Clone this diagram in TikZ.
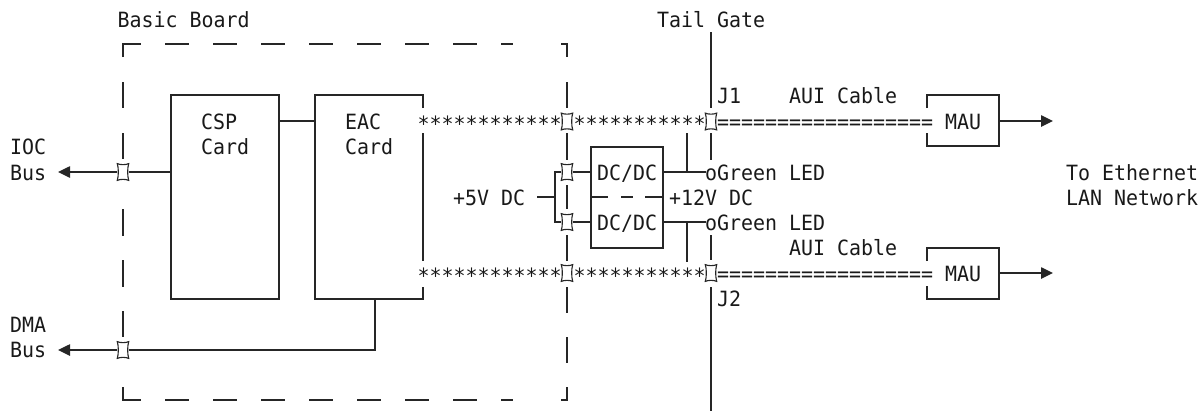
\documentclass[tikz,border=0pt]{standalone}
\usepackage{fontspec}
\setmonofont{DejaVu Sans Mono}[FakeStretch=0.95]
\usetikzlibrary{arrows.meta}
\tikzset{
  x=0.75pt,y=-0.75pt,
  line/.style={draw=black!85,line width=1.1pt},
  thinl/.style={draw=black!85,line width=0.85pt},
  arrowline/.style={line,-{Triangle[length=9pt,width=8.5pt]}},
  lbl/.style={anchor=base west,inner sep=0pt,outer sep=0pt,font=\ttfamily\fontsize{15.75}{15.75}\selectfont,text=black!90},
  connbox/.style={minimum width=8.6pt,minimum height=12.6pt,inner sep=0pt,outer sep=0pt},
  pt/.style={coordinate},
}
\newcommand{\connector}[3]{%
  \node[connbox] (#1) at (#2,#3) {};
  \draw[thinl,line join=miter]
    (#1.north west) .. controls +(3,1.4) and +(-3,1.4) .. (#1.north east)
    .. controls +(-1.4,4) and +(-1.4,-4) .. (#1.south east)
    .. controls +(-3,-1.4) and +(3,-1.4) .. (#1.south west)
    .. controls +(1.4,-4) and +(1.4,4) .. cycle;
}
\begin{document}
\begin{tikzpicture}
\useasboundingbox (0,0) rectangle (1202,411);
% boxes
\draw[line] (171,95) rectangle (279,299);
\node[pt] (csp) at (171,95) {};
% connectors
\connector{cioc}{123}{172}
\connector{cdma}{123}{350}
\connector{cat}{567}{121.5}
\connector{cbt}{567}{273}
\connector{cju}{711}{121.5}
\connector{cjd}{711}{273}
\connector{cpa}{567}{172}
\connector{cpb}{567}{222}
% EAC card (broken by the star rows)
\node[pt] (eacTopL) at (315,95) {};
\node[pt] (eacBotL) at (315,299) {};
\draw[line] (423,108) -- (423,95) -- (eacTopL) -- (eacBotL) -- (423,299) -- (423,287);
\draw[line] (423,133) -- (423,261);
% DC/DC box
\draw[line] (591,147) rectangle (663,248);
\draw[line] (591,197) -- (608,197) (621,197) -- (633,197) (645,197) -- (663,197);
% MAU boxes
\draw[line] (927,108) -- (927,95) -- (999,95) -- (999,146) -- (927,146) -- (927,133);
\draw[line] (927,261) -- (927,248) -- (999,248) -- (999,299) -- (927,299) -- (927,286);
% dashed board outline
\draw[line] (123,57) -- (123,44) -- (141,44)
  (165,44) -- (189,44) (213,44) -- (237,44) (261,44) -- (285,44) (309,44) -- (333,44)
  (357,44) -- (381,44) (405,44) -- (429,44) (453,44) -- (477,44) (501,44) -- (513,44)
  (561,44) -- (567,44) -- (567,57);
\draw[line] (123,387) -- (123,400) -- (141,400)
  (165,400) -- (189,400) (213,400) -- (237,400) (261,400) -- (285,400) (309,400) -- (333,400)
  (357,400) -- (381,400) (405,400) -- (429,400) (453,400) -- (477,400) (501,400) -- (513,400)
  (561,400) -- (567,400) -- (567,387);
\draw[line] (123,82) -- (123,108) (123,133) -- (123,159) (123,209) -- (123,236)
  (123,260) -- (123,287) (123,311) -- (123,337);
\draw[line] (567,82) -- (567,108) (567,133) -- (567,160) (567,185) -- (567,209)
  (567,235) -- (567,261) (567,287) -- (567,313) (567,337) -- (567,363);
% tail gate line
\draw[line] (711,32) -- (711,108) (711,133) -- (711,160) (711,235) -- (711,260) (711,287) -- (711,411);
% links
\node[pt] (csprow) at (171,172) {};
\node[pt] (iocend) at (58,172) {};
\node[pt] (dmaend) at (58,350) {};
\node[pt] (dmaup) at (375,350) {};
\node[pt] (eacbot) at (375,299) {};
\draw[arrowline] (cioc.west) -- (iocend);
\draw[line] (cioc.east) -- (csprow);
\draw[arrowline] (cdma.west) -- (dmaend);
\draw[line] (cdma.east) -- (dmaup) -- (eacbot);
\draw[line] (279,121) -- (eacTopL |- 279,121);
% power
\node[pt] (p5) at (537,197) {};
\node[pt] (pj) at (555,197) {};
\draw[line] (p5) -- (pj);
\draw[line] (cpa.west) -- (555,172) -- (555,222) -- (cpb.west);
\draw[line] (cpa.east) -- (591,172);
\draw[line] (cpb.east) -- (591,222);
\draw[line] (663,172) -- (706,172) (663,222) -- (706,222);
\draw[line] (687,133) -- (687,172) (687,222) -- (687,262);
% output arrows
\node[pt] (aout) at (1053,121) {};
\node[pt] (bout) at (1053,273) {};
\draw[arrowline] (999,121) -- (aout);
\draw[arrowline] (999,273) -- (bout);
% labels
\node[lbl] (t1) at (117.5,27) {Basic Board};
\node[lbl] (t2) at (657,27) {Tail Gate};
\node[lbl] (t3) at (717,103) {J1};
\node[lbl] (t4) at (789,103) {AUI Cable};
\node[lbl] (t5) at (201,129) {CSP};
\node[lbl] (t6) at (201,154) {Card};
\node[lbl] (t7) at (345,129) {EAC};
\node[lbl] (t8) at (345,154) {Card};
\node[lbl] (t9) at (10,154) {IOC};
\node[lbl] (t10) at (10,180) {Bus};
\node[lbl] (t11) at (10,332) {DMA};
\node[lbl] (t12) at (10,357) {Bus};
\node[lbl] (t13) at (417.5,131) {************};
\node[lbl] (t14) at (573.5,131) {***********};
\node[lbl] (t15) at (417.5,283) {************};
\node[lbl] (t16) at (573.5,283) {***********};
\node[lbl] (t17) at (717,129) {==================};
\node[lbl] (t18) at (717,281) {==================};
\node[lbl] (t19) at (945,129) {MAU};
\node[lbl] (t20) at (945,281) {MAU};
\node[lbl] (t21) at (453,205) {+5V DC};
\node[lbl] (t22) at (597,180) {DC/DC};
\node[lbl] (t23) at (597,230) {DC/DC};
\node[lbl] (t24) at (705,180) {oGreen LED};
\node[lbl] (t25) at (705,230) {oGreen LED};
\node[lbl] (t26) at (669,205) {+12V DC};
\node[lbl] (t27) at (789,255) {AUI Cable};
\node[lbl] (t28) at (717,306) {J2};
\node[lbl] (t29) at (1066,180) {To Ethernet};
\node[lbl] (t30) at (1066,205) {LAN Network};
\end{tikzpicture}
\end{document}
